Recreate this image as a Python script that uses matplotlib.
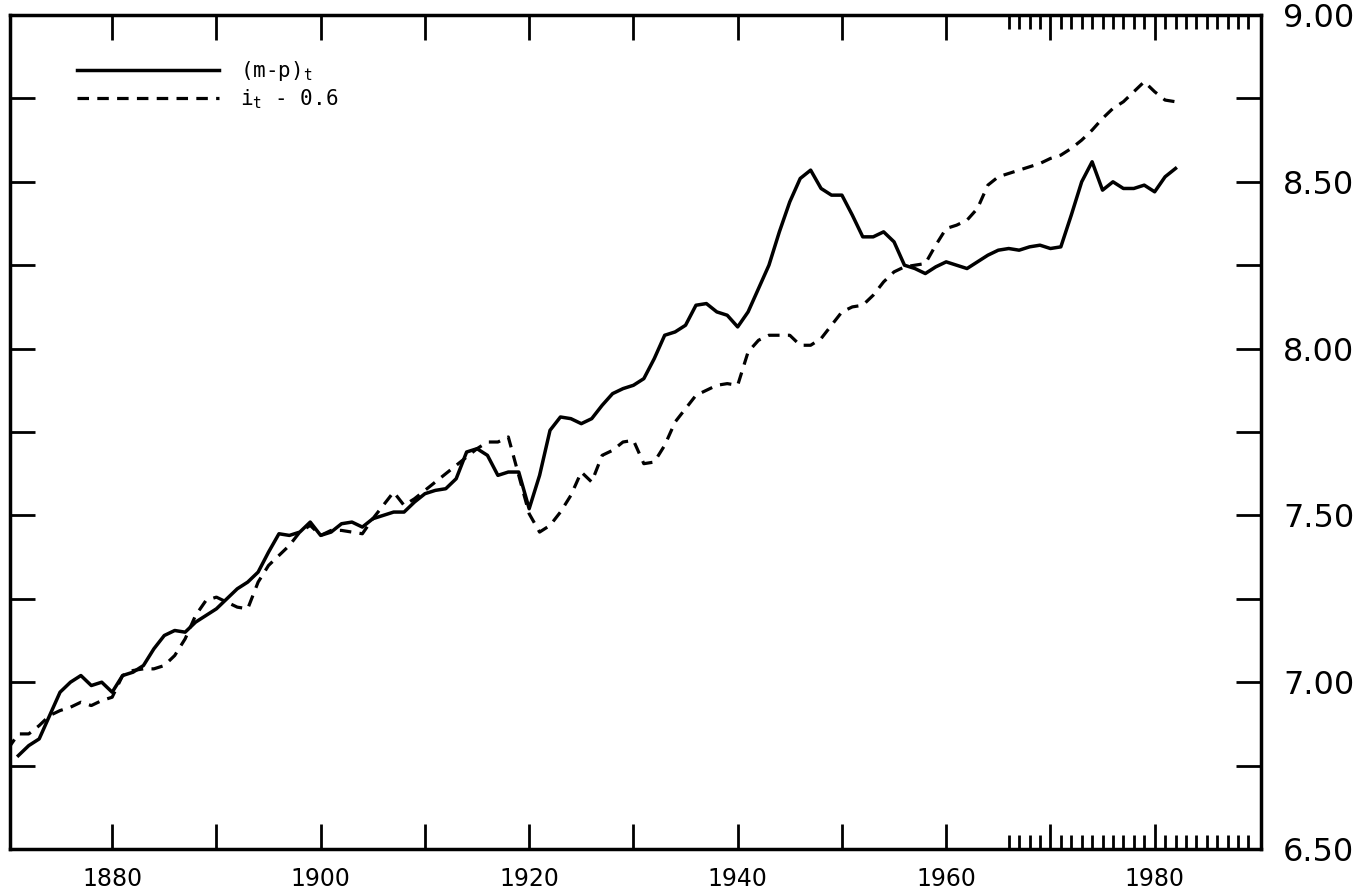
import matplotlib
matplotlib.use('Agg')
import matplotlib.pyplot as plt
from matplotlib.ticker import FixedLocator, FuncFormatter

# real money balances (m-p)_t, annual
years_mp = list(range(1871, 1983))
mp = [6.78, 6.81, 6.83, 6.90, 6.97, 7.00, 7.02, 6.99, 7.00, 6.97,
      7.02, 7.03, 7.05, 7.10, 7.14, 7.155, 7.15, 7.18, 7.20, 7.22,
      7.25, 7.28, 7.30, 7.33, 7.39, 7.445, 7.44, 7.45, 7.48, 7.44,
      7.45, 7.475, 7.48, 7.465, 7.49, 7.50, 7.51, 7.51, 7.54, 7.565,
      7.575, 7.58, 7.61, 7.69, 7.70, 7.68, 7.62, 7.63, 7.63, 7.52,
      7.62, 7.755, 7.795, 7.79, 7.775, 7.79, 7.83, 7.865, 7.88, 7.89,
      7.91, 7.97, 8.04, 8.05, 8.07, 8.13, 8.135, 8.11, 8.10, 8.065,
      8.11, 8.18, 8.25, 8.35, 8.44, 8.51, 8.535, 8.48, 8.46, 8.46,
      8.40, 8.335, 8.335, 8.35, 8.32, 8.25, 8.24, 8.225, 8.245, 8.26,
      8.25, 8.24, 8.26, 8.28, 8.295, 8.30, 8.295, 8.305, 8.31, 8.30,
      8.305, 8.40, 8.50, 8.56, 8.475, 8.50, 8.48, 8.48, 8.49, 8.47,
      8.515, 8.54]

# income series shifted down by 0.6
years_i = list(range(1870, 1983))
i_adj = [6.80, 6.845, 6.845, 6.87, 6.90, 6.915, 6.925, 6.94, 6.93, 6.945,
         6.955, 7.02, 7.035, 7.04, 7.04, 7.05, 7.08, 7.13, 7.20, 7.245,
         7.255, 7.24, 7.225, 7.22, 7.30, 7.35, 7.38, 7.41, 7.45, 7.47,
         7.44, 7.455, 7.455, 7.45, 7.445, 7.49, 7.53, 7.57, 7.53, 7.55,
         7.575, 7.60, 7.625, 7.65, 7.675, 7.70, 7.72, 7.72, 7.735, 7.62,
         7.505, 7.45, 7.47, 7.51, 7.56, 7.63, 7.60, 7.68, 7.695, 7.72,
         7.725, 7.655, 7.66, 7.71, 7.78, 7.82, 7.86, 7.875, 7.89, 7.895,
         7.89, 7.99, 8.025, 8.04, 8.04, 8.04, 8.01, 8.01, 8.03, 8.07,
         8.11, 8.125, 8.13, 8.16, 8.20, 8.23, 8.245, 8.25, 8.255, 8.31,
         8.36, 8.37, 8.385, 8.42, 8.49, 8.515, 8.525, 8.535, 8.545, 8.555,
         8.57, 8.58, 8.60, 8.625, 8.655, 8.69, 8.72, 8.74, 8.77, 8.80,
         8.77, 8.745, 8.74]

x_major = list(range(1880, 1990, 10))
x_minor = [y for y in range(1966, 1990) if y % 10 != 0]
x_labelled = [1880, 1900, 1920, 1940, 1960, 1980]
y_ticks = [6.50, 6.75, 7.00, 7.25, 7.50, 7.75, 8.00, 8.25, 8.50, 8.75, 9.00]

plt.rcParams['mathtext.fontset'] = 'custom'
plt.rcParams['mathtext.rm'] = 'DejaVu Sans Mono'
plt.rcParams['mathtext.it'] = 'DejaVu Sans Mono'

fig = plt.figure(figsize=(13.71, 8.92), dpi=100)
ax = fig.add_axes([10 / 1371, 1 - 849 / 892, 1251 / 1371, 834 / 892])

ax.plot(years_mp, mp, 'k-', lw=2.5, label=r'(m-p)$_t$')
ax.plot(years_i, i_adj, 'k--', lw=2.3, dashes=(3.6, 2.6), label=r'i$_t$ - 0.6')

ax.set_xlim(1870.2, 1990.2)
ax.set_ylim(6.5, 9.0)

for s in ax.spines.values():
    s.set_linewidth(2.5)

ax.xaxis.set_major_locator(FixedLocator(x_major))
ax.xaxis.set_minor_locator(FixedLocator(x_minor))
ax.xaxis.set_major_formatter(FuncFormatter(lambda v, p: '%d' % v if int(round(v)) in x_labelled else ''))
ax.yaxis.set_major_locator(FixedLocator(y_ticks))
ax.yaxis.set_major_formatter(FuncFormatter(lambda v, p: '%.2f' % v if abs(v * 2 - round(v * 2)) < 1e-6 else ''))

ax.tick_params(axis='both', which='both', direction='in', top=True, right=True,
               labelleft=False, labelright=True, width=2.0)
ax.tick_params(axis='both', which='major', length=18)
ax.tick_params(axis='x', which='minor', length=10)
ax.tick_params(axis='y', which='major', pad=16, labelsize=23)
ax.tick_params(axis='x', which='major', pad=13)
for t in ax.get_xticklabels():
    t.set_family(['Liberation Sans Narrow', 'DejaVu Sans'])
    t.set_fontsize(17)

leg = ax.legend(loc='upper left', bbox_to_anchor=(0.0535, 0.947), frameon=False,
                prop={'family': 'DejaVu Sans Mono', 'size': 15},
                handlelength=6.8, handletextpad=1.05, labelspacing=0.2,
                borderpad=0, borderaxespad=0)

fig.savefig('out.png', dpi=100, facecolor='white')
